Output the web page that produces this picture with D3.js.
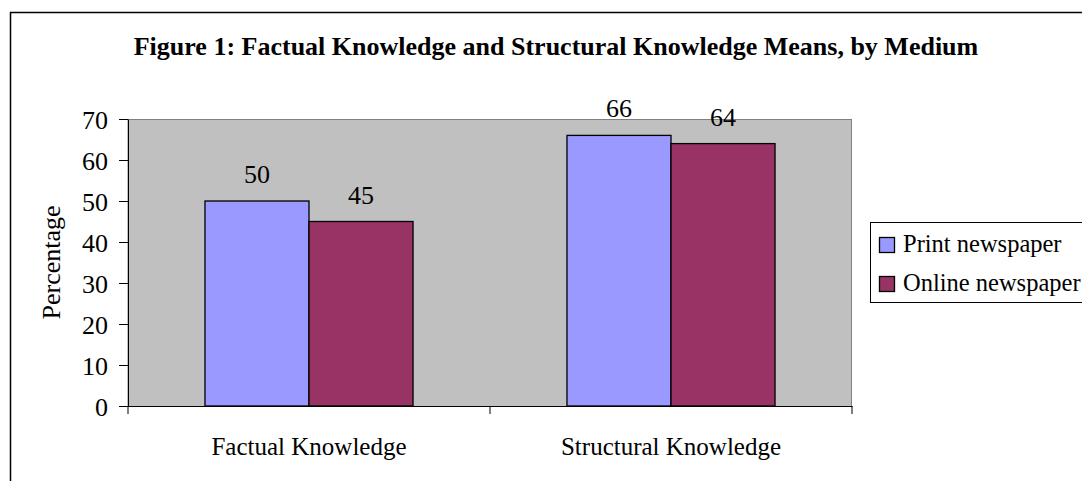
<!DOCTYPE html>
<html>
<head>
<meta charset="utf-8">
<script src="https://cdn.jsdelivr.net/npm/d3@7"></script>
<style>
  body { margin: 0; background: #fff; }
  svg { display: block; }
  svg text { font-family: "Liberation Serif", "Times New Roman", serif; fill: #000; }
</style>
</head>
<body>
<svg id="chart"></svg>
<script>
// Data
const categories = ["Factual Knowledge", "Structural Knowledge"];
const seriesNames = ["Print newspaper", "Online newspaper"];
const printValues = [50, 66];
const onlineValues = [45, 64];
const yTicks = [0, 10, 20, 30, 40, 50, 60, 70];
const colors = ["#9999ff", "#993366"];

const width = 1082, height = 481;
const svg = d3.select("#chart").attr("width", width).attr("height", height);

// outer frame
svg.append("rect")
    .attr("x", 10.5).attr("y", 12.5)
    .attr("width", width).attr("height", height)
    .attr("fill", "#fff").attr("stroke", "#000").attr("stroke-width", 1.5);

// title
svg.append("text")
    .attr("x", 556).attr("y", 55)
    .attr("text-anchor", "middle")
    .style("font-size", "26px").style("font-weight", "bold")
    .text("Figure 1: Factual Knowledge and Structural Knowledge Means, by Medium");

const plot = { left: 128, top: 119, right: 852, bottom: 406 };

const x = d3.scaleBand().domain(categories).range([plot.left, plot.right]);
const xInner = d3.scaleBand().domain(seriesNames).range([0, x.bandwidth()]).paddingInner(0).paddingOuter(0.74);
const y = d3.scaleLinear().domain([0, 70]).range([plot.bottom, plot.top]);

// plot background
svg.append("rect")
    .attr("x", plot.left).attr("y", plot.top + 0.5)
    .attr("width", plot.right - plot.left - 0.5).attr("height", plot.bottom - plot.top)
    .attr("fill", "#c0c0c0").attr("stroke", "#808080").attr("stroke-width", 1);

const data = categories.map((c, i) => ({
  cat: c,
  vals: [
    { name: seriesNames[0], value: printValues[i], color: colors[0] },
    { name: seriesNames[1], value: onlineValues[i], color: colors[1] }
  ]
}));

const groups = svg.selectAll(".grp").data(data).enter().append("g")
    .attr("transform", d => `translate(${x(d.cat)},0)`);

groups.selectAll("rect").data(d => d.vals).enter().append("rect")
    .attr("x", d => xInner(d.name))
    .attr("y", d => y(d.value))
    .attr("width", xInner.bandwidth())
    .attr("height", d => y(0) - y(d.value))
    .attr("fill", d => d.color)
    .attr("stroke", "#000").attr("stroke-width", 1.3);

groups.selectAll(".lbl").data(d => d.vals).enter().append("text")
    .attr("x", d => xInner(d.name) + xInner.bandwidth() / 2)
    .attr("y", d => y(d.value) - 18)
    .attr("text-anchor", "middle")
    .style("font-size", "26px")
    .text(d => d.value);

// y axis
const yAxis = svg.append("g")
    .attr("transform", `translate(${plot.left},0)`)
    .call(d3.axisLeft(y).tickValues(yTicks).tickSize(9).tickPadding(11).tickSizeOuter(0));
yAxis.selectAll("text").style("font-size", "26px").attr("dy", "0.36em");
yAxis.selectAll("line, path").attr("stroke", "#000");

// x axis
const xAxis = svg.append("g")
    .attr("transform", `translate(0,${plot.bottom})`)
    .call(d3.axisBottom(x).tickSize(0).tickPadding(31).tickSizeOuter(0));
xAxis.select(".domain").attr("stroke", "#000");
xAxis.selectAll("text").style("font-size", "25px");
// category separator ticks
const xTickPos = [plot.left, plot.left + x.bandwidth(), plot.right];
svg.selectAll(".xt").data(xTickPos).enter().append("line")
    .attr("x1", d => d).attr("x2", d => d)
    .attr("y1", plot.bottom).attr("y2", plot.bottom + 8)
    .attr("stroke", "#000");

// y label
svg.append("text")
    .attr("transform", `translate(60,${(plot.top + plot.bottom) / 2}) rotate(-90)`)
    .attr("text-anchor", "middle")
    .style("font-size", "26px")
    .text("Percentage");

// legend
const legend = svg.append("g");
legend.append("rect")
    .attr("x", 870.5).attr("y", 222.5).attr("width", 240).attr("height", 80)
    .attr("fill", "#fff").attr("stroke", "#000").attr("stroke-width", 1);
seriesNames.forEach((s, i) => {
  const yy = 245 + i * 39;
  legend.append("rect")
      .attr("x", 879.5).attr("y", yy - 7.5).attr("width", 15).attr("height", 15)
      .attr("fill", colors[i]).attr("stroke", "#000").attr("stroke-width", 1.3);
  legend.append("text")
      .attr("x", 903).attr("y", yy + 7)
      .style("font-size", "24.5px")
      .text(s);
});
</script>
</body>
</html>
